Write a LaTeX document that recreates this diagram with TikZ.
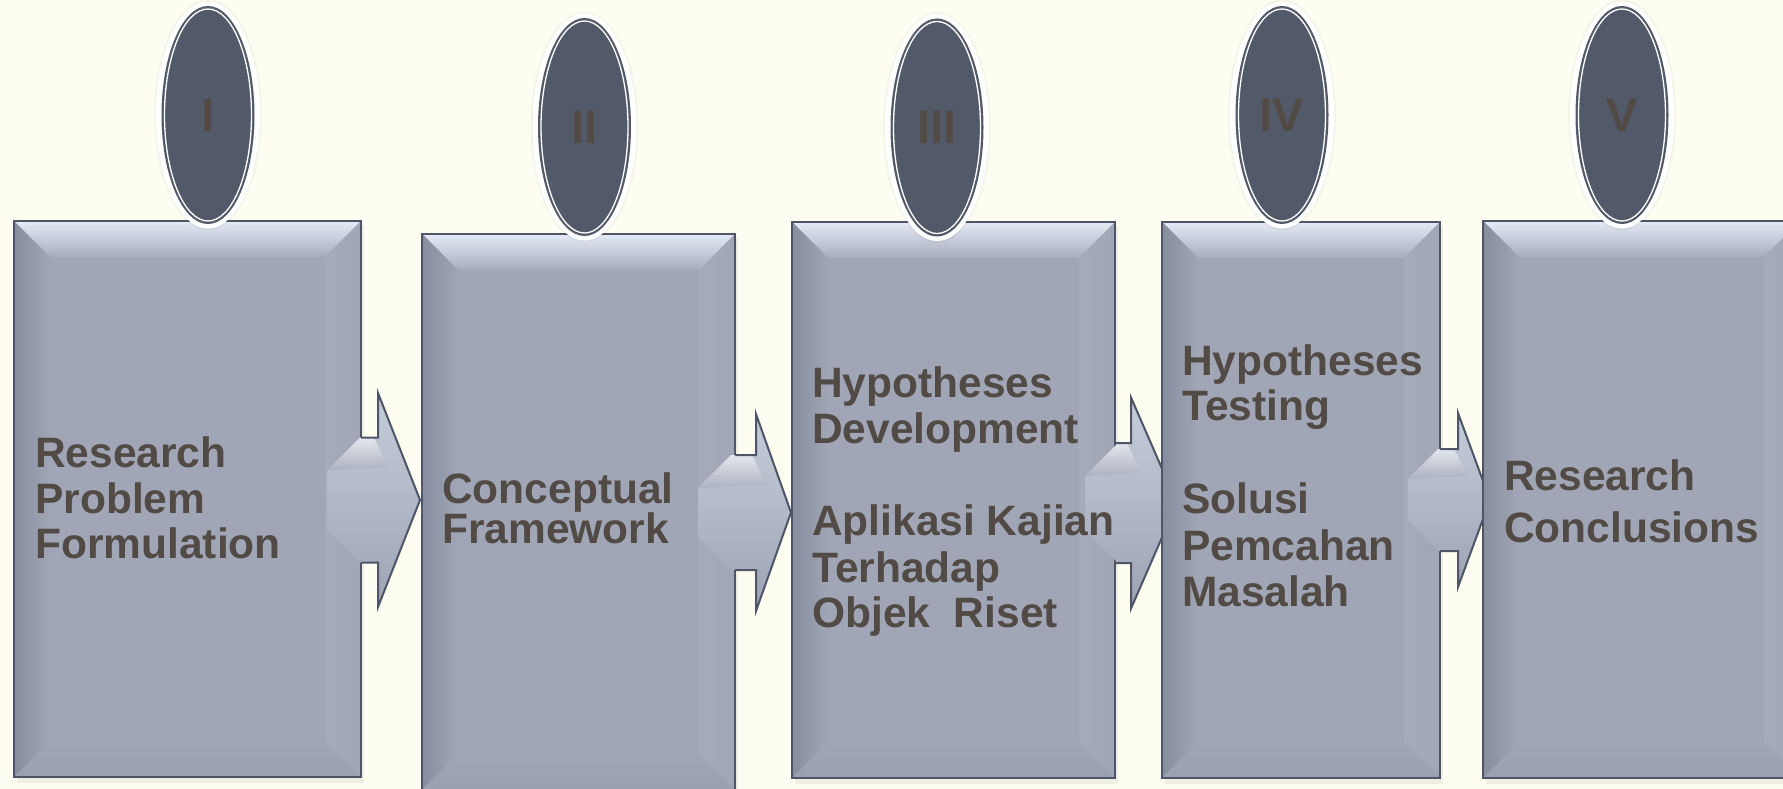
\documentclass[tikz,border=0pt]{standalone}
\usepackage{fontspec}
\setmainfont{Liberation Sans}
\usetikzlibrary{calc,shapes.geometric}
\definecolor{bg}{HTML}{FDFDF1}
\definecolor{txt}{HTML}{524A45}
\definecolor{edgec}{HTML}{4D5567}
\definecolor{facein}{HTML}{AEB4C2}
\definecolor{faceout}{HTML}{A0A6B6}
\definecolor{bevtop}{HTML}{E4EBF6}
\definecolor{bevtopb}{HTML}{A6ACBB}
\definecolor{bevleft}{HTML}{868D9F}
\definecolor{bevleftb}{HTML}{A0A6B5}
\definecolor{bevright}{HTML}{A5ABBA}
\definecolor{bevrightb}{HTML}{A0A6B5}
\definecolor{bevbot}{HTML}{9AA0B0}
\definecolor{ovalc}{HTML}{525A6A}
\definecolor{arrtop}{HTML}{C6CDDA}
\definecolor{arrmid}{HTML}{A8AEBD}
\definecolor{arrbot}{HTML}{9DA3B3}
\tikzset{
  boxbase/.style={rectangle, inner sep=0pt, outer sep=0pt, draw=none,
    left color=faceout, middle color=facein, right color=faceout},
  boxedge/.style={draw=edgec, line width=2pt},
  shadowc/.style={fill=black, opacity=0.06},
  lbl/.style={anchor=base west, inner sep=0pt, text=txt,
    font=\fontsize{42.5}{46}\selectfont\bfseries},
  num/.style={inner sep=0pt, text=txt, font=\fontsize{47}{50}\selectfont\bfseries},
  ovalout/.style={ellipse, fill=white, draw=none, inner sep=0pt, outer sep=0pt,
    minimum width=104pt, minimum height=227pt},
  arrowfill/.style={top color=arrtop, middle color=arrmid, bottom color=arrbot},
  arrowedge/.style={draw=edgec, line width=2pt, line join=miter},
}
\newcommand\bw{36}
% name, x1, y1, x2, y2
\newcommand\bevbox[5]{%
  \fill[shadowc] ({#2+3},{#3+4}) rectangle ({#4+3},{#5+6});
  \node[boxbase, minimum width={#4pt-#2pt}, minimum height={#5pt-#3pt}]
    (#1) at ({(#2+#4)/2},{(#3+#5)/2}) {};
  \shade[top color=bevtop, bottom color=bevtopb]
    (#1.north west) -- (#1.north east) -- ($(#1.north east)+(-\bw,\bw)$)
    -- ($(#1.north west)+(\bw,\bw)$) -- cycle;
  \shade[left color=bevleft, right color=bevleftb]
    (#1.north west) -- ($(#1.north west)+(\bw,\bw)$)
    -- ($(#1.south west)+(\bw,-\bw)$) -- (#1.south west) -- cycle;
  \shade[left color=bevright, right color=bevrightb]
    (#1.north east) -- ($(#1.north east)+(-\bw,\bw)$)
    -- ($(#1.south east)+(-\bw,-\bw)$) -- (#1.south east) -- cycle;
  \shade[top color=faceout, bottom color=bevbot]
    (#1.south west) -- ($(#1.south west)+(\bw,-\bw)$)
    -- ($(#1.south east)+(-\bw,-\bw)$) -- (#1.south east) -- cycle;
  \draw[boxedge] (#1.north west) rectangle (#1.south east);
}
% xs, xb, xh, xt, yc, sh, hh, c
\newcommand\bevarrow[8]{%
  \shade[arrowfill]
    ({#1},{#5-#6+#8}) -- ({#1+#8},{#5-#6}) -- ({#3},{#5-#6}) -- ({#3},{#5-#7})
    -- ({#4},{#5}) -- ({#3},{#5+#7}) -- ({#3},{#5+#6}) -- ({#1+#8},{#5+#6})
    -- ({#1},{#5+#6-#8}) -- cycle;
  \shade[top color=white!75!arrtop, bottom color=arrmid, opacity=0.75]
    ({#1},{#5-#6+#8}) -- ({#1+#8},{#5-#6}) -- ({#3-4},{#5-#6})
    -- ({#3+10},{#5-#6+#8*0.9}) -- cycle;
  \draw[arrowedge]
    ({#2},{#5-#6}) -- ({#3},{#5-#6}) -- ({#3},{#5-#7}) -- ({#4},{#5})
    -- ({#3},{#5+#7}) -- ({#3},{#5+#6}) -- ({#2},{#5+#6});
}
% name, cx, cy, numeral
\newcommand\romanoval[4]{%
  \fill[black, opacity=0.035] (#2,#3) ellipse [x radius=54pt, y radius=115.5pt];
  \node[ovalout] (#1) at (#2,#3) {};
  \fill[ovalc] (#1.center) ellipse [x radius=46.5pt, y radius=109pt];
  \draw[white, line width=1.3pt] (#1.center) ellipse [x radius=43.5pt, y radius=106pt];
  \node[num] (#1n) at (#1.center) {#4};
}
\begin{document}
\begin{tikzpicture}[x=1pt, y=-1pt]
  \useasboundingbox (0,0) rectangle (1783,789);
  \clip (0,0) rectangle (1783,789);
  \fill[bg] (0,0) rectangle (1783,789);

  \bevbox{b1}{14}{221}{361}{777}
  \bevarrow{327}{361}{378}{420}{500}{62.5}{107}{33}
  \bevbox{b2}{422}{234}{735}{790}
  \bevarrow{698}{735}{756}{791}{512.5}{57.5}{98.5}{33}
  \bevbox{b3}{792}{222}{1115}{778}
  \bevarrow{1085}{1115}{1131}{1177}{503}{60}{105.5}{33}
  \bevbox{b4}{1162}{222}{1440}{778}
  \bevarrow{1408}{1440}{1458}{1490}{500}{51}{87}{30}
  \bevbox{b5}{1483}{221}{1800}{778}

  \romanoval{e1}{208}{115}{I}
  \romanoval{e2}{584.5}{127}{II}
  \romanoval{e3}{937}{127.5}{III}
  \romanoval{e4}{1282}{115}{IV}
  \romanoval{e5}{1622}{115}{V}

  \node[lbl] (t11) at (35,467) {Research};
  \node[lbl] (t12) at (35,513) {Problem};
  \node[lbl] (t13) at (35,558) {Formulation};

  \node[lbl] (t21) at (442,503) {Conceptual};
  \node[lbl] (t22) at (442,543) {Framework};

  \node[lbl] (t31) at (812,397) {Hypotheses};
  \node[lbl] (t32) at (812,443) {Development};
  \node[lbl] (t33) at (812,535) {Aplikasi Kajian};
  \node[lbl] (t34) at (812,582) {Terhadap};
  \node[lbl] (t35) at (812,627) {Objek\ \ Riset};

  \node[lbl] (t41) at (1182,375) {Hypotheses};
  \node[lbl] (t42) at (1182,420) {Testing};
  \node[lbl] (t43) at (1182,513) {Solusi};
  \node[lbl] (t44) at (1182,560) {Pemcahan};
  \node[lbl] (t45) at (1182,606) {Masalah};

  \node[lbl] (t51) at (1504,490) {Research};
  \node[lbl] (t52) at (1504,542) {Conclusions};
\end{tikzpicture}
\end{document}
